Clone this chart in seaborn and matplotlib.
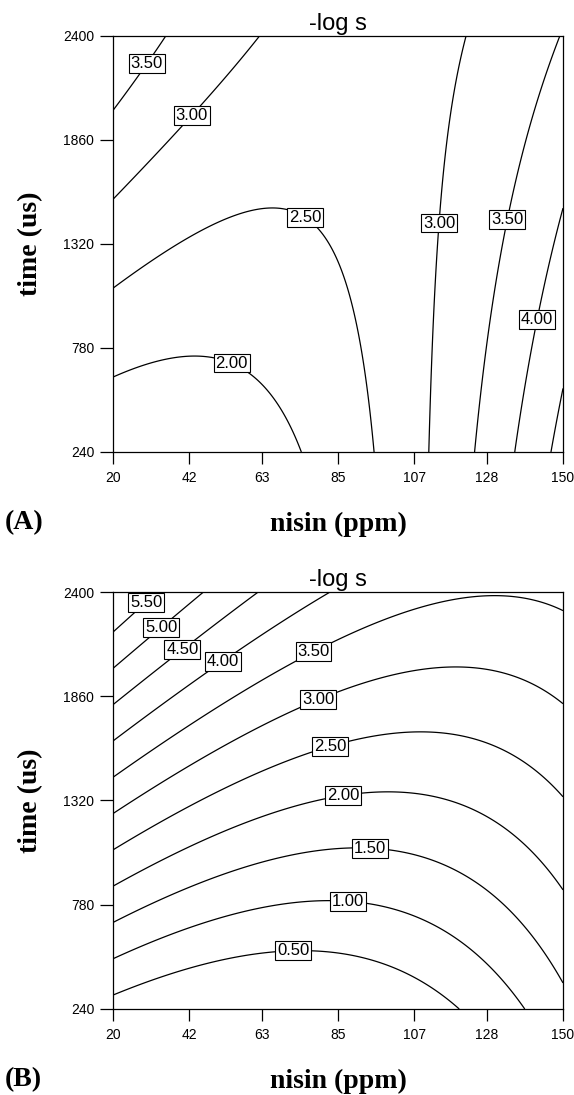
import numpy as np
import matplotlib
matplotlib.use("Agg")
import matplotlib.pyplot as plt
import seaborn as sns

sns.set_theme(style="white")
plt.rcParams['font.family'] = ['Liberation Sans', 'DejaVu Sans']

# ---- data -------------------------------------------------------------
nisin_ticks = [20, 42, 63, 85, 107, 128, 150]
time_ticks = [240, 780, 1320, 1860, 2400]
nisin_range = [20, 150]
time_range = [240, 2400]

# quadratic response-surface coefficients (coded units):
# [intercept, nisin, time, nisin*time, nisin^2, time^2]
coef_A = [2.525, 0.6755, 0.2965, -0.8735, 0.899, 0.0]
coef_B = [1.96, -0.35, 1.996, -0.876, 0.87, 0.0]

levels_A = [2.0, 2.5, 3.0, 3.5, 4.0, 4.5]
levels_B = [0.5, 1.0, 1.5, 2.0, 2.5, 3.0, 3.5, 4.0, 4.5, 5.0, 5.5]

# where the contour labels sit (nisin, time)
label_pos_A = [(29.5, 2260), (41.4, 2010), (76.3, 1481), (113.9, 1429),
               (133.5, 1450), (140.5, 936), (55.0, 733)]
label_pos_B = [(29.5, 2348), (32.4, 2250), (38.5, 2136), (50.3, 2079),
               (76.3, 2146), (78.3, 1887), (81.8, 1654), (85.9, 1406),
               (94.5, 1136), (88.2, 856), (72.0, 592)]

panel_letters = ["(A)", "(B)"]
title = "-log s"
xlabel = "nisin (ppm)"
ylabel = "time (us)"


def surface(coef, n=241):
    x = np.linspace(nisin_range[0], nisin_range[1], n)
    y = np.linspace(time_range[0], time_range[1], n)
    X, Y = np.meshgrid(x, y)
    cx = (X - np.mean(nisin_range)) / (np.diff(nisin_range)[0] / 2)
    cy = (Y - np.mean(time_range)) / (np.diff(time_range)[0] / 2)
    b0, b1, b2, b12, b11, b22 = coef
    Z = b0 + b1 * cx + b2 * cy + b12 * cx * cy + b11 * cx ** 2 + b22 * cy ** 2
    return X, Y, Z


W, H = 574, 1095
fig = plt.figure(figsize=(W / 100, H / 100), dpi=100)
fig.patch.set_facecolor("white")

panels = [
    dict(coef=coef_A, levels=levels_A, labels=label_pos_A, top=36, bottom=452),
    dict(coef=coef_B, levels=levels_B, labels=label_pos_B, top=592, bottom=1009),
]
left_px, right_px = 113, 563

serif = ['Liberation Serif', 'DejaVu Serif']

for i, p in enumerate(panels):
    ax = fig.add_axes([left_px / W, 1 - p["bottom"] / H,
                       (right_px - left_px) / W, (p["bottom"] - p["top"]) / H])
    ax.set_facecolor("white")
    X, Y, Z = surface(p["coef"])
    cs = ax.contour(X, Y, Z, levels=p["levels"], colors="black", linewidths=0.9)
    texts = ax.clabel(cs, inline=False, fmt="%.2f", fontsize=12,
                      manual=p["labels"])
    for t in texts:
        t.set_bbox(dict(facecolor="white", edgecolor="black", linewidth=0.8,
                        pad=1.3))
        t.set_rotation(0)
        t.set_zorder(5)

    ax.set_xlim(nisin_range)
    ax.set_ylim(time_range)
    ax.set_xticks(nisin_ticks)
    ax.set_yticks(time_ticks)
    ax.tick_params(axis="x", direction="out", length=8.5, width=0.9,
                   labelsize=10, pad=5.5, colors="black", bottom=True)
    ax.tick_params(axis="y", direction="out", length=9.5, width=0.9,
                   labelsize=10, pad=4, colors="black", left=True)
    for s in ax.spines.values():
        s.set_visible(True)
        s.set_color("black")
        s.set_linewidth(0.9)
        s.set_zorder(6)
    ax.grid(False)

    ax.set_title(title, fontsize=17, pad=4, color="black")
    ax.set_xlabel(xlabel, fontsize=20, fontweight="bold", family=serif,
                  color="black", va="center")
    ax.xaxis.set_label_coords(0.5, -72 / (p["bottom"] - p["top"]))
    ax.set_ylabel(ylabel, fontsize=20, fontweight="bold", family=serif,
                  color="black", va="center")
    ax.yaxis.set_label_coords(-(left_px - 31) / (right_px - left_px), 0.5)

    fig.text(5 / W, 1 - (p["bottom"] + 71) / H, panel_letters[i],
             fontsize=20, fontweight="bold", family=serif,
             ha="left", va="center", color="black")

fig.savefig("out.png", dpi=100, facecolor="white")
